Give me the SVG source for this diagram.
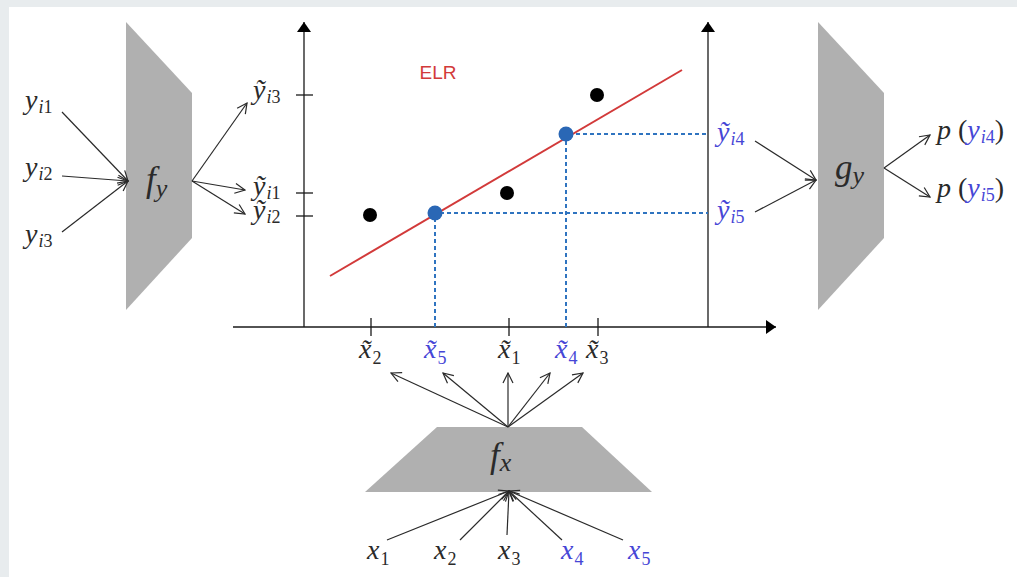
<svg xmlns="http://www.w3.org/2000/svg" width="1017" height="577" viewBox="0 0 1017 577">
<defs>
<style>
.b{fill:#4646d6}
.c{stroke:#2a2a2a;stroke-width:1.2;fill:none;marker-end:url(#oa)}
.ax{stroke:#1a1a1a;stroke-width:1.3;fill:none}
.tk{stroke:#1a1a1a;stroke-width:1.3}
.d{stroke:#2f74c0;stroke-width:2;stroke-dasharray:4,3;fill:none}
.trap{fill:#b0b0b0}
</style>
<marker id="oa" viewBox="0 0 12 12" refX="11" refY="6" markerWidth="12" markerHeight="12" markerUnits="userSpaceOnUse" orient="auto">
<path d="M1,1 L11,6 L1,11" fill="none" stroke="#2a2a2a" stroke-width="1.2"/>
</marker>
<marker id="fa" viewBox="0 0 10 20" refX="10" refY="10" markerWidth="10" markerHeight="20" markerUnits="userSpaceOnUse" orient="auto">
<path d="M0,3 L10,10 L0,17 Z" fill="#000"/>
</marker>
</defs>
<rect x="0" y="0" width="1017" height="577" fill="#e8ecee"/>
<rect x="9" y="7" width="1008" height="570" fill="#ffffff"/>

<g id="axes">
<line class="ax" x1="304" y1="327" x2="304" y2="22" marker-end="url(#fa)"/>
<line class="ax" x1="708" y1="327" x2="708" y2="22" marker-end="url(#fa)"/>
<line class="ax" x1="233" y1="327" x2="776" y2="327" marker-end="url(#fa)"/>
<line class="tk" x1="296" y1="95" x2="313" y2="95"/>
<line class="tk" x1="296" y1="193" x2="313" y2="193"/>
<line class="tk" x1="296" y1="216" x2="313" y2="216"/>
<line class="tk" x1="371" y1="318" x2="371" y2="336"/>
<line class="tk" x1="509" y1="318" x2="509" y2="336"/>
<line class="tk" x1="598" y1="318" x2="598" y2="336"/>
</g>

<g id="elr">
<text x="438" y="79" text-anchor="middle" font-family="Liberation Sans, Arial, sans-serif" font-size="19" fill="#d23a3a">ELR</text>
<polyline class="d" points="435,327 435,213 708,213"/>
<polyline class="d" points="566,327 566,134 708,134"/>
<line x1="330" y1="276" x2="682" y2="70" stroke="#d23a3a" stroke-width="2"/>
<circle cx="370" cy="215" r="7" fill="#000"/>
<circle cx="507" cy="193" r="7" fill="#000"/>
<circle cx="597" cy="95" r="7" fill="#000"/>
<circle cx="435" cy="213" r="7.5" fill="#2a67b5"/>
<circle cx="566" cy="134" r="7.5" fill="#2a67b5"/>
</g>

<g font-family="Liberation Serif, serif" font-style="italic" font-size="28" fill="#2a2a2a">
<g id="fy">
<polygon class="trap" points="126,22 192,93 192,238 126,310"/>
<text x="146" y="191" font-size="35">f<tspan dy="6" font-size="26">y</tspan></text>
</g>
<g id="gy">
<polygon class="trap" points="818,22 884,93 884,238 818,310"/>
<text x="835" y="179" font-size="35">g<tspan dy="5" font-size="26">y</tspan></text>
</g>
<g id="fx">
<polygon class="trap" points="437,427 582,427 652,492 365,492"/>
<text x="490" y="467" font-size="35">f<tspan dy="4" font-size="26">x</tspan></text>
</g>

<g id="labels-left">
<text x="25" y="109">y<tspan dx="1" dy="4" font-size="18">i</tspan><tspan font-size="18" font-style="normal">1</tspan></text>
<text x="25" y="176">y<tspan dx="1" dy="4" font-size="18">i</tspan><tspan font-size="18" font-style="normal">2</tspan></text>
<text x="25" y="243">y<tspan dx="1" dy="4" font-size="18">i</tspan><tspan font-size="18" font-style="normal">3</tspan></text>
</g>
<g id="labels-ytilde">
<text x="253" y="99">ỹ<tspan dx="1" dy="4" font-size="18">i</tspan><tspan font-size="18" font-style="normal">3</tspan></text>
<text x="253" y="195">ỹ<tspan dx="1" dy="4" font-size="18">i</tspan><tspan font-size="18" font-style="normal">1</tspan></text>
<text x="253" y="219">ỹ<tspan dx="1" dy="4" font-size="18">i</tspan><tspan font-size="18" font-style="normal">2</tspan></text>
<text class="b" x="717" y="141">ỹ<tspan dx="1" dy="4" font-size="18">i</tspan><tspan font-size="18" font-style="normal">4</tspan></text>
<text class="b" x="717" y="219">ỹ<tspan dx="1" dy="4" font-size="18">i</tspan><tspan font-size="18" font-style="normal">5</tspan></text>
</g>
<g id="labels-p">
<text x="937" y="139">p <tspan font-style="normal">(</tspan><tspan class="b">y</tspan><tspan class="b" dx="1" dy="4" font-size="18">i</tspan><tspan class="b" font-size="18" font-style="normal">4</tspan><tspan font-style="normal" dy="-4">)</tspan></text>
<text x="937" y="197">p <tspan font-style="normal">(</tspan><tspan class="b">y</tspan><tspan class="b" dx="1" dy="4" font-size="18">i</tspan><tspan class="b" font-size="18" font-style="normal">5</tspan><tspan font-style="normal" dy="-4">)</tspan></text>
</g>
<g id="labels-xtilde">
<text x="359" y="358">x̃<tspan dx="1" dy="6" font-size="18" font-style="normal">2</tspan></text>
<text class="b" x="424" y="358">x̃<tspan dx="1" dy="6" font-size="18" font-style="normal">5</tspan></text>
<text x="498" y="358">x̃<tspan dx="1" dy="6" font-size="18" font-style="normal">1</tspan></text>
<text class="b" x="555" y="358">x̃<tspan dx="1" dy="6" font-size="18" font-style="normal">4</tspan></text>
<text x="586" y="358">x̃<tspan dx="1" dy="6" font-size="18" font-style="normal">3</tspan></text>
</g>
<g id="labels-x">
<text x="367" y="559">x<tspan dx="1" dy="6" font-size="18" font-style="normal">1</tspan></text>
<text x="434" y="559">x<tspan dx="1" dy="6" font-size="18" font-style="normal">2</tspan></text>
<text x="498" y="559">x<tspan dx="1" dy="6" font-size="18" font-style="normal">3</tspan></text>
<text class="b" x="561" y="559">x<tspan dx="1" dy="6" font-size="18" font-style="normal">4</tspan></text>
<text class="b" x="628" y="559">x<tspan dx="1" dy="6" font-size="18" font-style="normal">5</tspan></text>
</g>
</g>

<g id="connectors">
<line class="c" x1="62" y1="112" x2="128" y2="181"/>
<line class="c" x1="62" y1="176" x2="128" y2="181"/>
<line class="c" x1="62" y1="232" x2="128" y2="181"/>
<line class="c" x1="192" y1="181" x2="247" y2="103"/>
<line class="c" x1="192" y1="181" x2="245" y2="190"/>
<line class="c" x1="192" y1="181" x2="245" y2="214"/>
<line class="c" x1="755" y1="141" x2="816" y2="180"/>
<line class="c" x1="755" y1="212" x2="816" y2="180"/>
<line class="c" x1="884" y1="168" x2="930" y2="135"/>
<line class="c" x1="884" y1="168" x2="930" y2="197"/>
<line class="c" x1="508" y1="427" x2="391" y2="373"/>
<line class="c" x1="508" y1="427" x2="443" y2="373"/>
<line class="c" x1="508" y1="427" x2="508" y2="373"/>
<line class="c" x1="508" y1="427" x2="550" y2="373"/>
<line class="c" x1="508" y1="427" x2="583" y2="373"/>
<line class="c" x1="387" y1="540" x2="509" y2="491"/>
<line class="c" x1="460" y1="540" x2="509" y2="491"/>
<line class="c" x1="507" y1="535" x2="509" y2="491"/>
<line class="c" x1="562" y1="540" x2="509" y2="491"/>
<line class="c" x1="623" y1="540" x2="509" y2="491"/>
</g>
</svg>
